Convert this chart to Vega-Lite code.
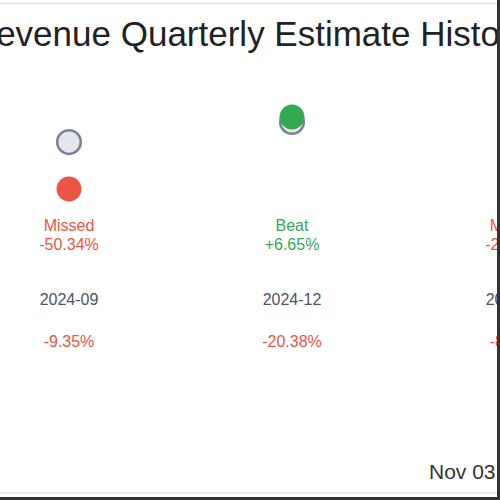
{
  "$schema": "https://vega.github.io/schema/vega-lite/v6.json",
  "width": 500,
  "height": 500,
  "padding": 0,
  "autosize": "none",
  "background": "white",
  "config": {"view": {"stroke": null}, "text": {"font": "Liberation Sans"}},
  "data": {"values": [
    {"quarter": "2024-09", "q": 0, "estimate": 1.2, "actual": 0.596, "status": "Missed", "surprise": "-50.34%", "change": "-9.35%"},
    {"quarter": "2024-12", "q": 1, "estimate": 1.458, "actual": 1.522, "status": "Beat", "surprise": "+6.65%", "change": "-20.38%"},
    {"quarter": "2025-03", "q": 2, "estimate": 1.35, "actual": 1.0, "status": "Missed", "surprise": "-25.93%", "change": "-8.12%"}
  ]},
  "encoding": {
    "x": {"field": "q", "type": "quantitative", "scale": {"domain": [-0.3094, 1.9327], "nice": false, "zero": false}, "axis": null}
  },
  "layer": [
    {
      "mark": {"type": "point", "shape": "circle", "filled": true, "fill": "#e5e7eb", "stroke": "#7b819a", "strokeWidth": 2.5, "size": 560, "opacity": 1},
      "encoding": {"y": {"field": "estimate", "type": "quantitative", "scale": {"domain": [-3.401, 3.026], "nice": false, "zero": false}, "axis": null}}
    },
    {
      "mark": {"type": "point", "shape": "circle", "filled": true, "size": 620, "opacity": 1},
      "encoding": {
        "y": {"field": "actual", "type": "quantitative", "scale": {"domain": [-3.401, 3.026], "nice": false, "zero": false}, "axis": null},
        "color": {"field": "status", "type": "nominal", "scale": {"domain": ["Beat", "Missed"], "range": ["#34a853", "#ea5545"]}, "legend": null}
      }
    },
    {
      "mark": {"type": "text", "font": "Liberation Sans", "fontSize": 16, "baseline": "middle", "align": "center"},
      "encoding": {
        "y": {"value": 226},
        "text": {"field": "status"},
        "color": {"field": "status", "type": "nominal", "scale": {"domain": ["Beat", "Missed"], "range": ["#34a853", "#ea5545"]}, "legend": null}
      }
    },
    {
      "mark": {"type": "text", "font": "Liberation Sans", "fontSize": 16, "baseline": "middle", "align": "center"},
      "encoding": {
        "y": {"value": 245},
        "text": {"field": "surprise"},
        "color": {"field": "status", "type": "nominal", "scale": {"domain": ["Beat", "Missed"], "range": ["#34a853", "#ea5545"]}, "legend": null}
      }
    },
    {
      "mark": {"type": "text", "font": "Liberation Sans", "fontSize": 16, "baseline": "middle", "align": "center", "color": "#4b5563"},
      "encoding": {"y": {"value": 300}, "text": {"field": "quarter"}}
    },
    {
      "mark": {"type": "text", "font": "Liberation Sans", "fontSize": 16, "baseline": "middle", "align": "center", "color": "#ea5545"},
      "encoding": {"y": {"value": 342}, "text": {"field": "change"}}
    },
    {
      "data": {"values": [{"title": "Revenue Quarterly Estimate History", "date": "Nov 03, 2025"}]},
      "layer": [
        {
          "mark": {"type": "text", "font": "Liberation Sans", "fontSize": 35, "baseline": "alphabetic", "align": "center", "color": "#222222"},
          "encoding": {"x": {"value": 250}, "y": {"value": 46}, "text": {"field": "title"}}
        },
        {
          "mark": {"type": "text", "font": "Liberation Sans", "fontSize": 21, "baseline": "middle", "align": "left", "color": "#333333"},
          "encoding": {"x": {"value": 429}, "y": {"value": 473}, "text": {"field": "date"}}
        },
        {
          "mark": {"type": "rule", "color": "#e5e7eb", "strokeWidth": 1.5},
          "encoding": {"x": {"value": 0}, "x2": {"value": 500}, "y": {"value": 3.5}}
        },
        {
          "mark": {"type": "rule", "color": "#e5e7eb", "strokeWidth": 1.5},
          "encoding": {"x": {"value": 0}, "x2": {"value": 500}, "y": {"value": 493}}
        },
        {
          "mark": {"type": "rule", "color": "#333333", "strokeWidth": 3},
          "encoding": {"x": {"value": 0}, "x2": {"value": 500}, "y": {"value": 498.5}}
        },
        {
          "mark": {"type": "rule", "color": "#333333", "strokeWidth": 3},
          "encoding": {"x": {"value": 498.5}, "y": {"value": 0}, "y2": {"value": 500}}
        }
      ]
    }
  ]
}
